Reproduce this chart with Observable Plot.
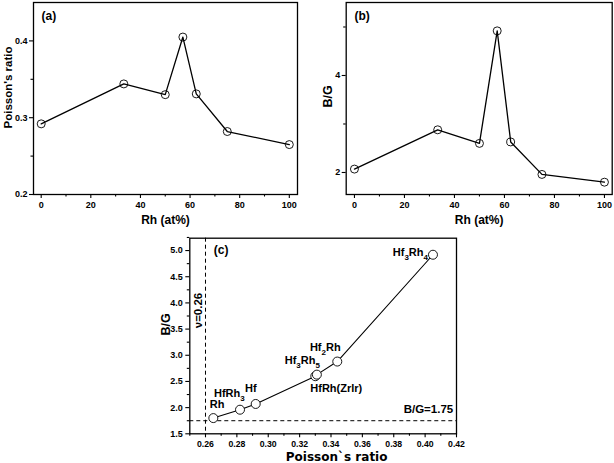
<!DOCTYPE html>
<html>
<head>
<meta charset="utf-8">
<script src="https://cdn.jsdelivr.net/npm/d3@7"></script>
<script src="https://cdn.jsdelivr.net/npm/@observablehq/plot@0.6"></script>
<style>
  html, body { margin: 0; padding: 0; background: #fff; }
  #wrap { position: relative; width: 614px; height: 463px; overflow: hidden; background: #fff; }
  #wrap svg { position: absolute; }
</style>
</head>
<body>
<div id="wrap"></div>
<script>
// ---------- data ----------
const compounds = ["Hf", "Hf2Rh", "HfRh", "Hf3Rh4", "Hf3Rh5", "HfRh3", "Rh"];
const rhAtPct = [0, 33.3, 50, 57.1, 62.5, 75, 100];
const poissonRatio = [0.292, 0.344, 0.330, 0.405, 0.331, 0.282, 0.265];
const bgRatio = [2.07, 2.88, 2.60, 4.92, 2.63, 1.96, 1.80];
const pointLabels = ["Hf", "Hf_2Rh", "HfRh(Zrlr)", "Hf_3Rh_4", "Hf_3Rh_5", "HfRh_3", "Rh"];

const rhTicks = [0, 20, 40, 60, 80, 100];
const rhMinorTicks = [10, 30, 50, 70, 90];
const poissonTicksA = [0.2, 0.3, 0.4];
const poissonMinorA = [0.25, 0.35];
const bgTicksB = [2, 4];
const bgMinorB = [3, 5];
const poissonTicksC = [0.26, 0.28, 0.30, 0.32, 0.34, 0.36, 0.38, 0.40, 0.42];
const poissonMinorC = [0.25, 0.27, 0.29, 0.31, 0.33, 0.35, 0.37, 0.39, 0.41];
const bgTicksC = [1.5, 2.0, 2.5, 3.0, 3.5, 4.0, 4.5, 5.0];
const bgMinorC = [1.75, 2.25, 2.75, 3.25, 3.75, 4.25, 4.75, 5.25];
const nuCritical = 0.26;
const bgCritical = 1.75;

const rows = compounds.map((c, i) => ({
  compound: c, rh: rhAtPct[i], nu: poissonRatio[i], bg: bgRatio[i], label: pointLabels[i]
}));

// ---------- styling ----------
const FONT = '"Liberation Sans", Arial, Helvetica, sans-serif';
const baseStyle = {fontFamily: FONT, fontWeight: "bold", background: "transparent", overflow: "visible", color: "black"};
const major = {tickSize: 4, tickPadding: 3, fontSize: 9, strokeWidth: 1.1, label: null};
const minor = {tickSize: 2.5, tickFormat: () => "", strokeWidth: 1.1, label: null};
const bold = {fontWeight: "bold", fill: "black", lineAnchor: "middle"};
const vTitle = {frameAnchor: "left", rotate: -90, textAnchor: "middle"};

// ---------- panel (a) ----------
const plotA = Plot.plot({
  width: 305, height: 232,
  marginLeft: 33, marginRight: 8, marginTop: 2, marginBottom: 38,
  style: baseStyle,
  x: {domain: [-3.1, 103.3], label: null},
  y: {domain: [0.2, 0.45], label: null},
  marks: [
    Plot.axisX({ticks: rhTicks, anchor: "bottom", ...major}),
    Plot.axisX({ticks: rhMinorTicks, anchor: "bottom", ...minor}),
    Plot.axisY({ticks: poissonTicksA, anchor: "left", ...major, tickPadding: 2, tickFormat: ".1f"}),
    Plot.axisY({ticks: poissonMinorA, anchor: "left", ...minor}),
    Plot.frame({stroke: "black", strokeWidth: 1.3}),
    Plot.line(rows, {x: "rh", y: "nu", stroke: "black", strokeWidth: 1.3}),
    Plot.dot(rows, {x: "rh", y: "nu", r: 4, stroke: "black", fill: "none", strokeWidth: 0.9}),
    Plot.text(["(a)"], {text: d => d, frameAnchor: "top-left", textAnchor: "start", dx: 8, dy: 14, fontSize: 12, ...bold}),
    Plot.text(["Rh (at%)"], {text: d => d, frameAnchor: "bottom", dy: 26, fontSize: 12, ...bold}),
    Plot.text(["Poisson's ratio"], {text: d => d, ...vTitle, dx: -25, dy: -11, fontSize: 11.5, ...bold})
  ]
});

// ---------- panel (b) ----------
const plotB = Plot.plot({
  width: 309, height: 232,
  marginLeft: 40.7, marginRight: 2.3, marginTop: 2, marginBottom: 38,
  style: baseStyle,
  x: {domain: [-3.3, 103.1], label: null},
  y: {domain: [1.546, 5.505], label: null},
  marks: [
    Plot.axisX({ticks: rhTicks, anchor: "bottom", ...major}),
    Plot.axisX({ticks: rhMinorTicks, anchor: "bottom", ...minor}),
    Plot.axisY({ticks: bgTicksB, anchor: "left", ...major, tickPadding: 2, tickFormat: "d"}),
    Plot.axisY({ticks: bgMinorB, anchor: "left", ...minor}),
    Plot.frame({stroke: "black", strokeWidth: 1.3}),
    Plot.line(rows, {x: "rh", y: "bg", stroke: "black", strokeWidth: 1.3}),
    Plot.dot(rows, {x: "rh", y: "bg", r: 4, stroke: "black", fill: "none", strokeWidth: 0.9}),
    Plot.text(["(b)"], {text: d => d, frameAnchor: "top-left", textAnchor: "start", dx: 8.3, dy: 14, fontSize: 12, ...bold}),
    Plot.text(["Rh (at%)"], {text: d => d, frameAnchor: "bottom", dy: 26, fontSize: 12, ...bold}),
    Plot.text(["B/G"], {text: d => d, ...vTitle, dx: -18, dy: -2, fontSize: 12.5, ...bold})
  ]
});

// ---------- panel (c) ----------
const labelPlacement = {
  "Hf3Rh4": {textAnchor: "end", dx: -5, dy: -2},
  "Hf2Rh": {textAnchor: "middle", dx: -12, dy: -14},
  "Hf3Rh5": {textAnchor: "end", dx: 3, dy: -14},
  "HfRh": {textAnchor: "start", dx: -5, dy: 12},
  "HfRh3": {textAnchor: "start", dx: -26, dy: -16},
  "Hf": {textAnchor: "end", dx: 1, dy: -15},
  "Rh": {textAnchor: "start", dx: -3.5, dy: -14}
};
const rowsSorted = d3.sort(rows, d => d.nu);

const plotC = Plot.plot({
  width: 330, height: 231,
  marginLeft: 49.3, marginRight: 14, marginTop: 5.7, marginBottom: 29.7,
  style: baseStyle,
  x: {domain: [0.25, 0.42], label: null},
  y: {domain: [1.5, 5.236], label: null},
  marks: [
    Plot.axisX({ticks: poissonTicksC, anchor: "bottom", ...major, fontSize: 8.7, tickPadding: 3, tickFormat: ".2f"}),
    Plot.axisX({ticks: poissonMinorC, anchor: "bottom", ...minor}),
    Plot.axisY({ticks: bgTicksC, anchor: "left", ...major, tickFormat: ".1f"}),
    Plot.axisY({ticks: bgMinorC, anchor: "left", ...minor}),
    Plot.ruleX([nuCritical], {x: d => d, stroke: "black", strokeWidth: 1, strokeDasharray: "4,3"}),
    Plot.ruleY([bgCritical], {y: d => d, stroke: "black", strokeWidth: 1, strokeDasharray: "4,3"}),
    Plot.frame({stroke: "black", strokeWidth: 1.3}),
    Plot.line(rowsSorted, {x: "nu", y: "bg", stroke: "black", strokeWidth: 1.1}),
    Plot.dot(rowsSorted, {x: "nu", y: "bg", r: 4.5, stroke: "black", fill: "white", strokeWidth: 0.9}),
    ...rows.map(r => Plot.text([r], {x: "nu", y: "bg", text: "label", fontSize: 11, ...bold, ...labelPlacement[r.compound]})),
    Plot.text([nuCritical], {x: d => d, text: d => `ν=${d}`, frameAnchor: "top", rotate: -90, textAnchor: "middle", dx: -6.7, dy: 72.3, fontSize: 11.5, ...bold}),
    Plot.text([bgCritical], {y: d => d, text: d => `B/G=${d}`, frameAnchor: "right", textAnchor: "end", dx: -3.3, dy: -11, fontSize: 11.5, ...bold}),
    Plot.text(["(c)"], {text: d => d, frameAnchor: "top-left", textAnchor: "start", dx: 24, dy: 12.3, fontSize: 12, ...bold}),
    Plot.text(["Poisson`s ratio"], {text: d => d, frameAnchor: "bottom", dx: 13.5, dy: 23, fontSize: 12, fontFamily: '"DejaVu Sans", sans-serif', ...bold}),
    Plot.text(["B/G"], {text: d => d, ...vTitle, dx: -24.3, dy: -11.5, fontSize: 12.5, ...bold})
  ]
});

// subscripts: "Hf_3Rh_4" -> Hf<sub>3</sub>Rh<sub>4</sub>
function applySubscripts(svg) {
  const ns = "http://www.w3.org/2000/svg";
  svg.querySelectorAll("text").forEach(t => {
    const s = t.textContent;
    if (!s.includes("_")) return;
    t.textContent = "";
    const parts = s.split(/_(\d)/);
    parts.forEach((p, i) => {
      if (!p) return;
      const ts = document.createElementNS(ns, "tspan");
      if (i % 2 === 1) { ts.setAttribute("dy", "3.5"); ts.setAttribute("font-size", "8"); }
      else if (i > 0) { ts.setAttribute("dy", "-3.5"); }
      ts.textContent = p;
      t.appendChild(ts);
    });
  });
}
applySubscripts(plotC);

const wrap = document.getElementById("wrap");
[[plotA, 0, 0], [plotB, 305, 0], [plotC, 140, 232]].forEach(([svg, left, top]) => {
  svg.style.left = left + "px";
  svg.style.top = top + "px";
  wrap.appendChild(svg);
});
</script>
</body>
</html>
